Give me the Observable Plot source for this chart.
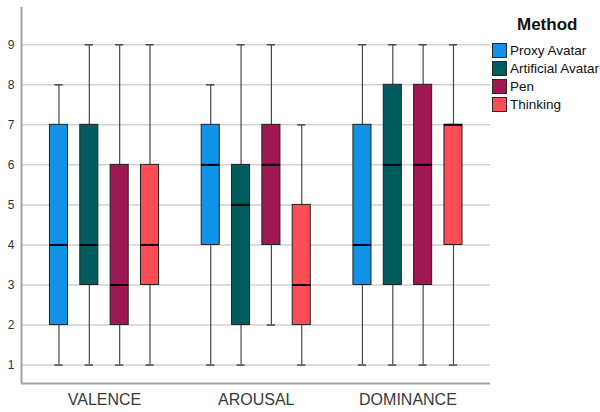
<!DOCTYPE html>
<html>
<head>
<meta charset="utf-8">
<script src="https://cdn.jsdelivr.net/npm/d3@7"></script>
<script src="https://cdn.jsdelivr.net/npm/@observablehq/plot@0.6"></script>
<style>
  html, body { margin: 0; padding: 0; background: #fff; }
  #wrap { position: relative; width: 600px; height: 412px; font-family: "Liberation Sans", Arial, sans-serif; }
  #chart { position: absolute; left: 0; top: 0; }
  #legend { position: absolute; left: 492px; top: 13px; color: #111; }
  #legend .title { font-weight: bold; font-size: 17px; margin-left: 25px; height: 26px; padding-top: 2px; line-height: 20px; }
  #legend .item { display: flex; align-items: center; height: 18px; font-size: 13.5px; white-space: nowrap; }
  #legend .sw { width: 13px; height: 13px; border: 1px solid #2a2a2a; margin-right: 3px; flex: none; }
  #chart [aria-label^="x-axis"] text { font-size: 16px; fill: #3a3a3a; }
  #chart [aria-label^="y-axis"] text { font-size: 12px; fill: #333; }
</style>
</head>
<body>
<div id="wrap"><div id="chart"></div><div id="legend"></div></div>
<script>
const groups = ["VALENCE", "AROUSAL", "DOMINANCE"];
const methods = ["Proxy Avatar", "Artificial Avatar", "Pen", "Thinking"];
const colors = ["#1192e8", "#005d5d", "#9f1853", "#fa4d56"];
// per group (rows) and method (columns)
const mins    = [[1, 1, 1, 1], [1, 1, 2, 1], [1, 1, 1, 1]];
const q1s     = [[2, 3, 2, 3], [4, 2, 4, 2], [3, 3, 3, 4]];
const medians = [[4, 4, 3, 4], [6, 5, 6, 3], [4, 6, 6, 7]];
const q3s     = [[7, 7, 6, 6], [7, 6, 7, 5], [7, 8, 8, 7]];
const maxs    = [[8, 9, 9, 9], [8, 9, 9, 7], [9, 9, 9, 9]];
const yTicks = [1, 2, 3, 4, 5, 6, 7, 8, 9];

const xDomain = [-0.547, 2.544];
const yDomain = [0.54, 9.93];
const step = 0.2, boxHalf = 0.0595, capHalf = 0.027;

const rows = [];
groups.forEach((g, gi) => methods.forEach((m, mi) => rows.push({
  group: g, method: m,
  pos: gi + (mi - 1.5) * step,
  min: mins[gi][mi], q1: q1s[gi][mi], med: medians[gi][mi], q3: q3s[gi][mi], max: maxs[gi][mi]
})));

const chart = Plot.plot({
  width: 490, height: 412,
  marginLeft: 21, marginRight: 0, marginTop: 7, marginBottom: 29,
  style: { fontFamily: '"Liberation Sans", Arial, sans-serif', color: "#333", background: "#fff" },
  x: { type: "linear", domain: xDomain, ticks: [0, 1, 2], tickFormat: i => groups[i], tickSize: 0, tickPadding: 10, label: null },
  y: { domain: yDomain, ticks: yTicks, tickSize: 0, tickPadding: 7, label: null },
  color: { domain: methods, range: colors },
  marks: [
    Plot.ruleY(yTicks, { stroke: "#d2d2d2", strokeWidth: 1.5 }),
    Plot.ruleX([xDomain[0]], { stroke: "#a3a3a3", strokeWidth: 2 }),
    Plot.ruleY([yDomain[0]], { stroke: "#a3a3a3", strokeWidth: 2 }),
    Plot.ruleX(rows, { x: "pos", y1: "min", y2: "max", stroke: "#4a4a4a", strokeWidth: 1.2 }),
    Plot.ruleY(rows, { y: "min", x1: d => d.pos - capHalf, x2: d => d.pos + capHalf, stroke: "#4a4a4a", strokeWidth: 1.5 }),
    Plot.ruleY(rows, { y: "max", x1: d => d.pos - capHalf, x2: d => d.pos + capHalf, stroke: "#4a4a4a", strokeWidth: 1.5 }),
    Plot.rect(rows, { x1: d => d.pos - boxHalf, x2: d => d.pos + boxHalf, y1: "q1", y2: "q3", fill: "method", stroke: "#222", strokeWidth: 1 }),
    Plot.ruleY(rows, { y: "med", x1: d => d.pos - boxHalf, x2: d => d.pos + boxHalf, stroke: "#000", strokeWidth: 2 })
  ]
});
document.getElementById("chart").appendChild(chart);

const legend = d3.select("#legend");
legend.append("div").attr("class", "title").text("Method");
methods.forEach((m, i) => {
  const it = legend.append("div").attr("class", "item");
  it.append("div").attr("class", "sw").style("background", colors[i]);
  it.append("span").text(m);
});
</script>
</body>
</html>
